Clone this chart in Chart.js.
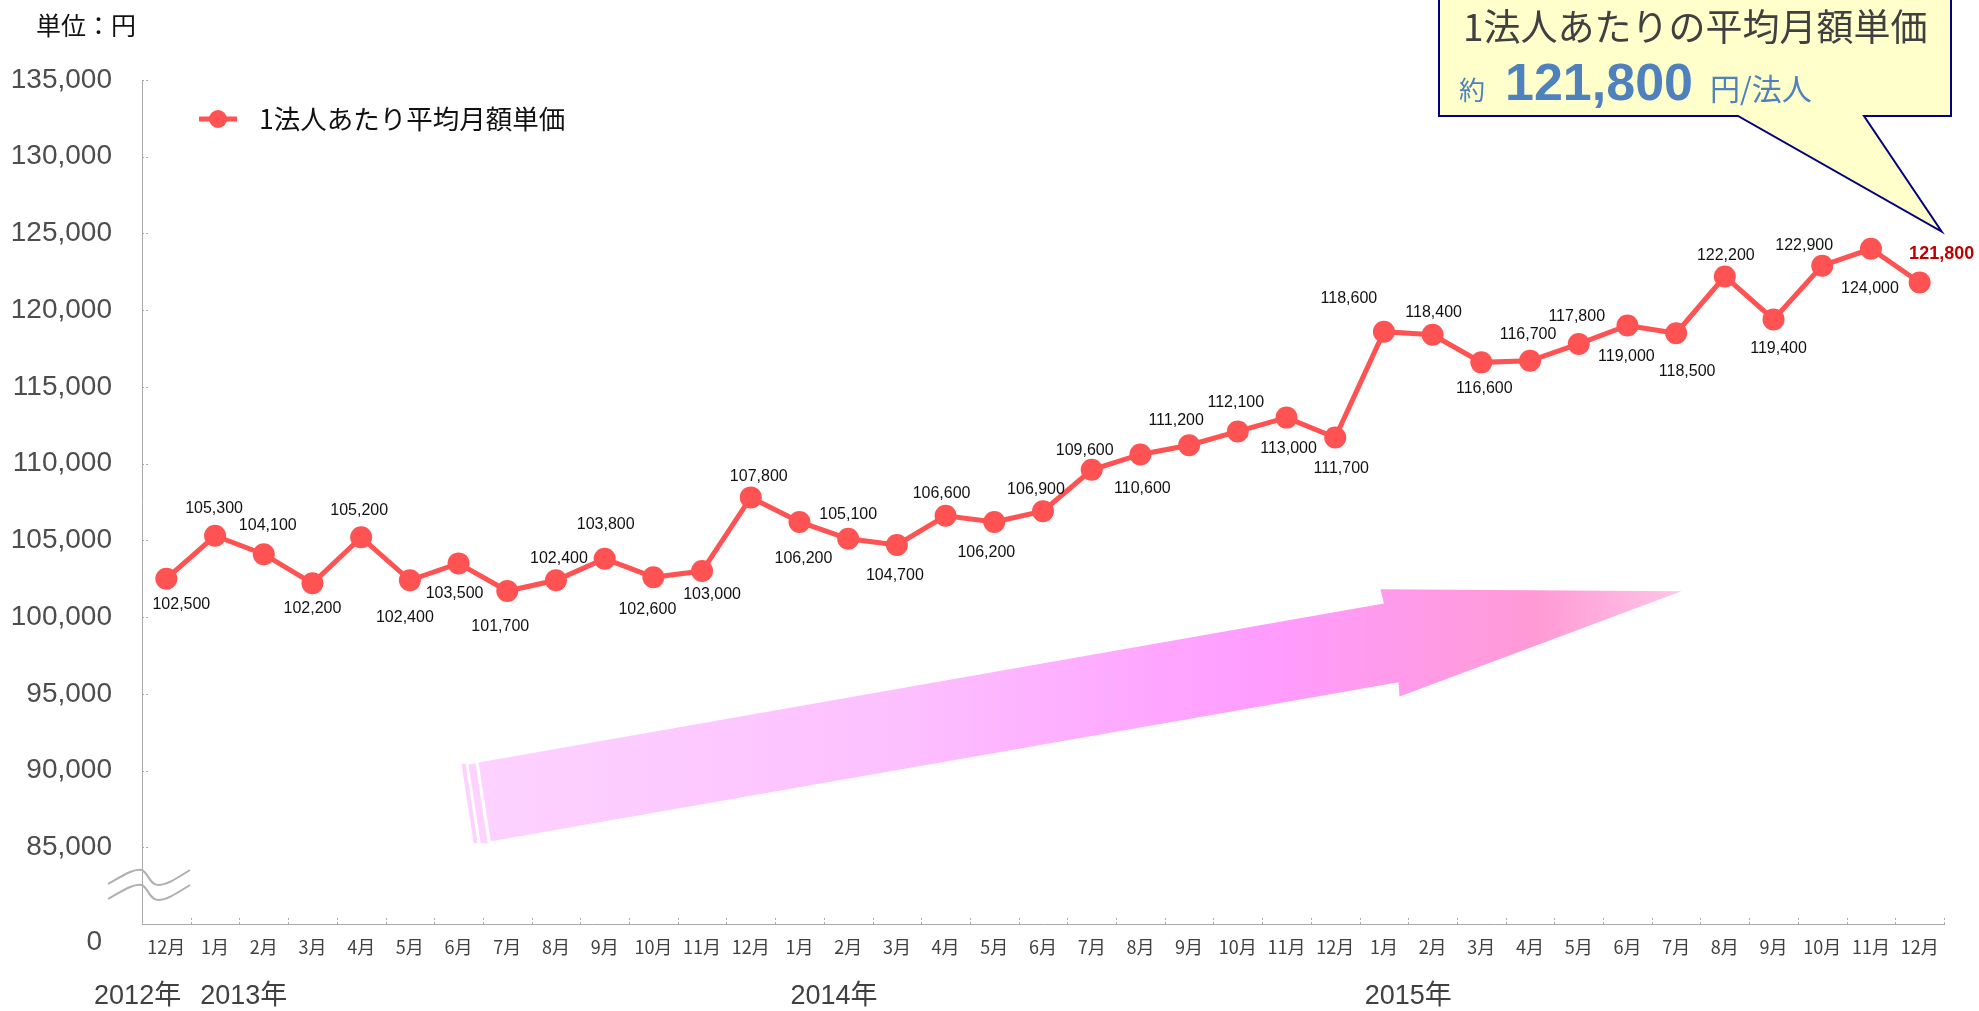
<!DOCTYPE html>
<html lang="ja">
<head>
<meta charset="utf-8">
<title>1法人あたり平均月額単価</title>
<script src="https://cdn.jsdelivr.net/npm/chart.js"></script>
<style>
  body { margin: 0; background: #fff; }
  #wrap { width: 1979px; height: 1011px; position: relative; }
</style>
</head>
<body>
<div id="wrap"><canvas id="myChart"></canvas></div>
<script>
let months = [
  "12月", "1月", "2月", "3月", "4月", "5月", "6月", "7月", "8月", "9月", "10月", "11月",
  "12月", "1月", "2月", "3月", "4月", "5月", "6月", "7月", "8月", "9月", "10月", "11月",
  "12月", "1月", "2月", "3月", "4月", "5月", "6月", "7月", "8月", "9月", "10月", "11月", "12月"
];
let prices = [
  102500, 105300, 104100, 102200, 105200, 102400, 103500, 101700, 102400, 103800, 102600, 103000,
  107800, 106200, 105100, 104700, 106600, 106200, 106900, 109600, 110600, 111200, 112100, 113000,
  111700, 118600, 118400, 116600, 116700, 117800, 119000, 118500, 122200, 119400, 122900, 124000, 121800
];
let seriesName = "1法人あたり平均月額単価";
let years = ["2012年", "2013年", "2014年", "2015年"];
// where each year label sits, in category units
let yearAt = [-0.59, 1.59, 13.71, 25.5];
let yTicks = { min: 80000, max: 135000, step: 5000 };

// data label offsets from each point [dx, dy]
let labelOffsets = [
  [15, 26], [-1, -27], [4, -29], [0, 25], [-2, -27], [-5, 37], [-4, 30], [-7, 36], [3, -22], [1, -34],
  [-6, 32], [10, 24], [8, -21], [4, 37], [0, -24], [-2, 31], [-4, -22], [-8, 31], [-7, -22], [-7, -19],
  [2, 34], [-13, -25], [-2, -29], [2, 31], [6, 31], [-35, -33], [1, -22], [3, 26], [-2, -26], [-2, -27],
  [-1, 31], [11, 38], [1, -21], [5, 29], [-18, -20], [-1, 40], [22, -29]
];

// trend arrow outline in data units [category, value]
let arrowShape = [
  [6.41, 90530], [25.0, 100890], [24.93, 101810], [31.11, 101680],
  [25.32, 94830], [25.3, 95750], [6.66, 85390]
];

const FONT = "'Liberation Sans', Arial, 'Noto Sans CJK JP', sans-serif";
const JP = "'Noto Sans CJK JP', sans-serif";
const LINE_COLOR = "rgb(255, 82, 82)";
const BLUE = "rgb(79, 129, 189)";

function fmt(v) {
  return v.toLocaleString("en-US");
}

let decorations = {
  id: "decorations",
  beforeDatasetsDraw(chart) {
    let ctx = chart.ctx;
    let xs = chart.scales.x;
    let ys = chart.scales.y;

    // pink arrow
    let p = arrowShape.map(a => [xs.getPixelForValue(a[0]), ys.getPixelForValue(a[1])]);
    let grad = ctx.createLinearGradient(p[0][0], 0, p[3][0], 0);
    grad.addColorStop(0, "#fdd2ff");
    grad.addColorStop(0.35, "#fcc0ff");
    grad.addColorStop(0.65, "#ff9cff");
    grad.addColorStop(0.88, "#ff9ad6");
    grad.addColorStop(1, "#ffc6e6");
    ctx.save();
    ctx.fillStyle = grad;
    ctx.beginPath();
    ctx.moveTo(p[0][0], p[0][1]);
    for (let i = 1; i < p.length; i++) {
      ctx.lineTo(p[i][0], p[i][1]);
    }
    ctx.closePath();
    ctx.fill();
    // the two thin strips at the tail
    ctx.fillStyle = "#fdd2ff";
    let strips = [[-17, -13], [-10, -3]];
    strips.forEach(s => {
      ctx.beginPath();
      ctx.moveTo(p[0][0] + s[0], p[0][1] + 2);
      ctx.lineTo(p[0][0] + s[1], p[0][1] + 1);
      ctx.lineTo(p[6][0] + s[1], p[6][1] + 2);
      ctx.lineTo(p[6][0] + s[0], p[6][1] + 2);
      ctx.closePath();
      ctx.fill();
    });
    ctx.restore();
  },
  afterDatasetsDraw(chart) {
    let ctx = chart.ctx;
    let xs = chart.scales.x;
    let ys = chart.scales.y;
    let area = chart.chartArea;
    let meta = chart.getDatasetMeta(0);
    let last = prices.length - 1;

    ctx.save();

    // inward tick marks
    ctx.strokeStyle = "#aaaaaa";
    ctx.lineWidth = 1;
    ctx.setLineDash([2, 2]);
    for (let v = yTicks.min; v <= yTicks.max; v += yTicks.step) {
      let y = Math.round(ys.getPixelForValue(v)) + 0.5;
      ctx.beginPath();
      ctx.moveTo(area.left, y);
      ctx.lineTo(area.left + 6, y);
      ctx.stroke();
    }
    for (let i = 0; i <= months.length; i++) {
      let x = Math.round(xs.getPixelForValue(i - 0.5)) + 0.5;
      ctx.beginPath();
      ctx.moveTo(x, area.bottom - 6);
      ctx.lineTo(x, area.bottom + 2);
      ctx.stroke();
    }
    ctx.setLineDash([]);

    // axis break marks
    let bx = area.left;
    let by = ys.getPixelForValue(yTicks.min);
    ctx.strokeStyle = "#b0b0b0";
    ctx.lineWidth = 2;
    [-54, -39].forEach(off => {
      ctx.beginPath();
      ctx.moveTo(bx - 34, by + off + 14);
      ctx.bezierCurveTo(bx - 20, by + off + 6, bx - 8, by + off - 2, bx, by + off);
      ctx.bezierCurveTo(bx + 6, by + off + 3, bx + 8, by + off + 15, bx + 16, by + off + 15);
      ctx.bezierCurveTo(bx + 26, by + off + 15, bx + 38, by + off + 6, bx + 48, by + off);
      ctx.stroke();
    });

    // "0" at the bottom of the broken axis
    ctx.fillStyle = "#4d4d4d";
    ctx.font = "28px " + FONT;
    ctx.textAlign = "right";
    ctx.textBaseline = "middle";
    ctx.fillText("0", area.left - 40, by + 18);

    // data labels
    ctx.textAlign = "center";
    for (let i = 0; i < prices.length; i++) {
      let pt = meta.data[i];
      if (i === last) {
        ctx.font = "bold 18px " + FONT;
        ctx.fillStyle = "rgb(192, 0, 0)";
      } else {
        ctx.font = "16px " + FONT;
        ctx.fillStyle = "#111111";
      }
      ctx.fillText(fmt(prices[i]), pt.x + labelOffsets[i][0], pt.y + labelOffsets[i][1]);
    }

    // year labels under the months
    ctx.font = "27px " + FONT;
    ctx.fillStyle = "#404040";
    years.forEach((t, i) => {
      ctx.fillText(t, xs.getPixelForValue(yearAt[i]), area.bottom + 73);
    });

    // unit label
    ctx.font = "25px " + JP;
    ctx.fillStyle = "#111111";
    ctx.textAlign = "left";
    ctx.fillText("単位：円", 36, 25);

    // legend
    let lx = area.left + 57;
    let ly = area.top + 39;
    ctx.strokeStyle = LINE_COLOR;
    ctx.lineWidth = 5;
    ctx.beginPath();
    ctx.moveTo(lx, ly);
    ctx.lineTo(lx + 38, ly);
    ctx.stroke();
    ctx.fillStyle = LINE_COLOR;
    ctx.beginPath();
    ctx.arc(lx + 19, ly, 9, 0, Math.PI * 2);
    ctx.fill();
    ctx.fillStyle = "#111111";
    ctx.font = "26.5px " + JP;
    ctx.fillText(seriesName, lx + 60, ly);

    // callout box pointing at the last month
    let tip = meta.data[last];
    let tx = tip.x + 22;
    let ty = tip.y - 51;
    let left = 1439, right = 1951, bottom = 116;
    ctx.fillStyle = "#ffffcc";
    ctx.strokeStyle = "#000080";
    ctx.lineWidth = 2;
    ctx.beginPath();
    ctx.moveTo(left, -5);
    ctx.lineTo(right, -5);
    ctx.lineTo(right, bottom);
    ctx.lineTo(1864, bottom);
    ctx.lineTo(tx, ty);
    ctx.lineTo(1738, bottom);
    ctx.lineTo(left, bottom);
    ctx.closePath();
    ctx.fill();
    ctx.stroke();

    ctx.textBaseline = "alphabetic";
    ctx.fillStyle = "#404040";
    ctx.font = "37px " + JP;
    ctx.fillText("1法人あたりの平均月額単価", left + 24, 41);

    ctx.fillStyle = BLUE;
    ctx.font = "26px " + JP;
    ctx.fillText("約", left + 20, 100);
    ctx.font = "bold 52px " + FONT;
    ctx.fillText(fmt(prices[last]), left + 66, 100);
    ctx.font = "30px " + JP;
    ctx.fillText("円/法人", left + 271, 100);

    ctx.restore();
  }
};

let ctx = document.getElementById("myChart").getContext("2d");
let chart = new Chart(ctx, {
  type: "line",
  data: {
    labels: months,
    datasets: [
      {
        label: seriesName,
        data: prices,
        borderColor: LINE_COLOR,
        backgroundColor: LINE_COLOR,
        borderWidth: 5,
        pointRadius: 11,
        pointBorderWidth: 0,
        pointBackgroundColor: LINE_COLOR,
        tension: 0,
        fill: false,
      },
    ],
  },
  options: {
    responsive: true,
    maintainAspectRatio: false,
    animation: false,
    layout: {
      padding: { top: 80, right: 35, left: 0, bottom: 0 },
    },
    plugins: {
      legend: { display: false },
      tooltip: { enabled: false },
    },
    scales: {
      x: {
        offset: true,
        grid: { display: false, drawTicks: false },
        border: { display: true, color: "#aaaaaa", dash: [2, 2], width: 1 },
        ticks: {
          color: "#404040",
          padding: 12,
          maxRotation: 0,
          autoSkip: false,
          font: { family: JP, size: 18 },
        },
        afterFit(scale) {
          scale.height = 87;
        },
      },
      y: {
        min: yTicks.min,
        max: yTicks.max,
        grid: { display: false, drawTicks: false },
        border: { display: true, color: "#aaaaaa", dash: [2, 2], width: 1 },
        ticks: {
          stepSize: yTicks.step,
          padding: 30,
          color: "#4d4d4d",
          font: { family: FONT, size: 28 },
          callback: function (v) {
            return v === yTicks.min ? "" : fmt(v);
          },
        },
        afterFit(scale) {
          scale.width = 142;
        },
      },
    },
  },
  plugins: [decorations],
});
</script>
</body>
</html>
